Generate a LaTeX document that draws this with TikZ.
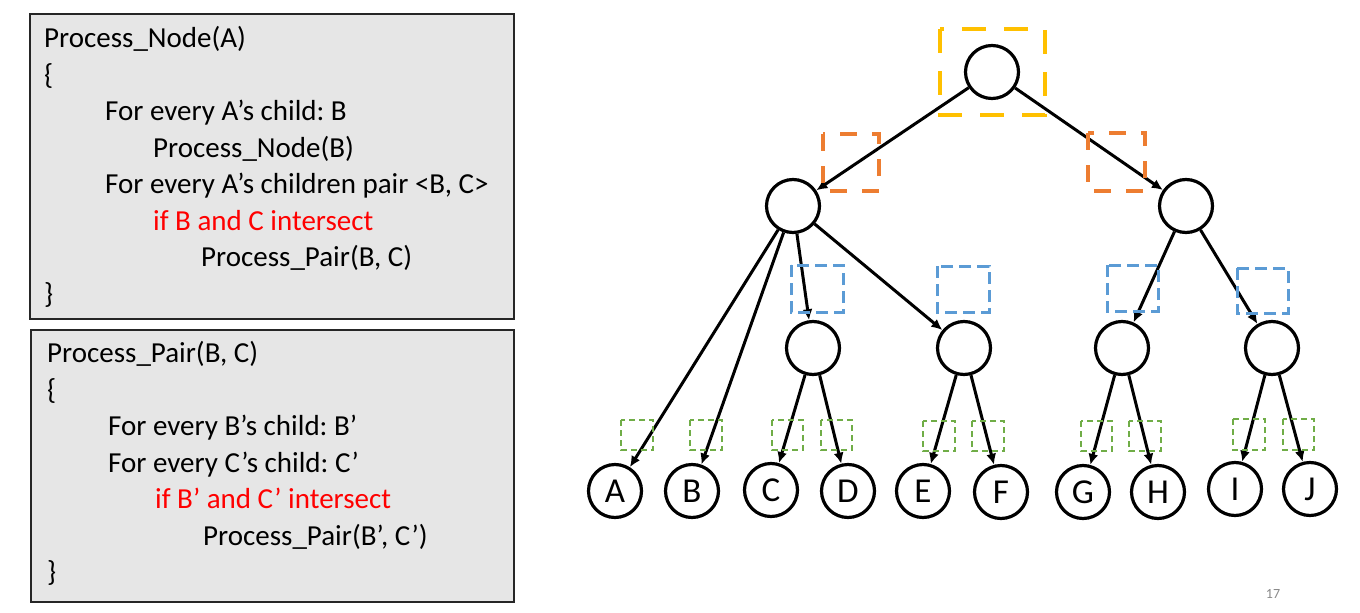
\documentclass[tikz,border=0pt]{standalone}
\usepackage{fontspec}
\setmainfont{Carlito}
\usetikzlibrary{arrows.meta}
\definecolor{codebg}{RGB}{230,230,230}
\definecolor{codered}{RGB}{255,0,0}
\definecolor{ylw}{RGB}{255,192,0}
\definecolor{org}{RGB}{237,125,49}
\definecolor{blu}{RGB}{91,155,213}
\definecolor{grn}{RGB}{112,173,71}
\definecolor{pgnum}{RGB}{137,137,137}
\frenchspacing
\begin{document}
\begin{tikzpicture}[x=1pt,y=-1pt,
  codebox/.style={draw=black!85, line width=1.2pt, fill=codebg},
  code/.style={anchor=base west, font=\fontsize{29}{29}\selectfont, inner sep=0pt},
  redcode/.style={code, text=codered},
  tnode/.style={circle, draw, line width=3.2pt, minimum size=53pt, inner sep=0pt, font=\fontsize{35}{35}\selectfont},
  arr/.style={-{Latex[length=11pt,width=10pt]}, line width=3pt},
  ybox/.style={draw=ylw, line width=4.5pt, dash pattern=on 24pt off 18pt},
  obox/.style={draw=org, line width=4.5pt, dash pattern=on 17pt off 15pt},
  bbox/.style={draw=blu, line width=3pt, dash pattern=on 12pt off 6pt},
  gbox/.style={draw=grn, line width=1.5pt, dash pattern=on 6pt off 4pt}
]
\useasboundingbox (0,0) rectangle (1360,613);

% code box 1
\draw[codebox] (30,14) rectangle (514,319);
\node[code] (n1) at (44,47.5) {Process\_Node(A)};
\node[code] (n2) at (44,84) {\{};
\node[code] (n3) at (105,120.5) {For every A’s child: B};
\node[code] (n4) at (153,157) {Process\_Node(B)};
\node[code] (n5) at (105,193.5) {For every A’s children pair <B, C>};
\node[redcode] (n6) at (153,230) {if B and C intersect};
\node[code] (n7) at (201,266.5) {Process\_Pair(B, C)};
\node[code] (n8) at (44,303) {\}};

% code box 2
\draw[codebox] (31,330) rectangle (514,602);
\node[code] (p1) at (47,362.5) {Process\_Pair(B, C)};
\node[code] (p2) at (47,399) {\{};
\node[code] (p3) at (108,435.5) {For every B’s child: B’};
\node[code] (p4) at (108,472) {For every C’s child: C’};
\node[redcode] (p5) at (155,508.5) {if B’ and C’ intersect};
\node[code] (p6) at (203,545) {Process\_Pair(B’, C’)};
\node[code] (p7) at (47,581.5) {\}};

% tree nodes
\node[tnode] (root) at (992,72) {};
\node[tnode] (l1) at (793,206) {};
\node[tnode] (r1) at (1186,206) {};
\node[tnode] (m1) at (813,348) {};
\node[tnode] (m2) at (964,348) {};
\node[tnode] (m3) at (1122,348) {};
\node[tnode] (m4) at (1272,348) {};
\node[tnode] (A) at (615,491) {A};
\node[tnode] (B) at (692,491) {B};
\node[tnode] (C) at (771,490) {C};
\node[tnode] (D) at (848,491) {D};
\node[tnode] (E) at (923,491) {E};
\node[tnode] (F) at (1001,492) {F};
\node[tnode] (G) at (1083,492) {G};
\node[tnode] (H) at (1158,492) {H};
\node[tnode] (I) at (1235,489) {I};
\node[tnode] (J) at (1310,489) {J};

% edges
\draw[arr] (root) -- (l1);
\draw[arr] (root) -- (r1);
\draw[arr] (l1) -- (A);
\draw[arr] (l1) -- (B);
\draw[arr] (l1) -- (m1);
\draw[arr] (l1) -- (m2);
\draw[arr] (r1) -- (m3);
\draw[arr] (r1) -- (m4);
\draw[arr] (m1) -- (C);
\draw[arr] (m1) -- (D);
\draw[arr] (m2) -- (E);
\draw[arr] (m2) -- (F);
\draw[arr] (m3) -- (G);
\draw[arr] (m3) -- (H);
\draw[arr] (m4) -- (I);
\draw[arr] (m4) -- (J);

% dashed boxes
\draw[ybox] (940,29) rectangle (1045,115);
\draw[obox] (823,134) rectangle (879,191);
\draw[obox] (1088,133) rectangle (1145,191);
\draw[bbox] (791,265) rectangle (843,312);
\draw[bbox] (937,266) rectangle (989,312);
\draw[bbox] (1107,265) rectangle (1158,311);
\draw[bbox] (1237,268) rectangle (1288,313);
\draw[gbox] (621,420) rectangle (653,450);
\draw[gbox] (690,420) rectangle (722,450);
\draw[gbox] (772,420) rectangle (803,450);
\draw[gbox] (821,420) rectangle (852,450);
\draw[gbox] (923,421) rectangle (955,451);
\draw[gbox] (972,421) rectangle (1004,451);
\draw[gbox] (1081,421) rectangle (1112,451);
\draw[gbox] (1129,421) rectangle (1161,451);
\draw[gbox] (1233,419) rectangle (1265,450);
\draw[gbox] (1283,419) rectangle (1314,450);

% page number
\node[text=pgnum, font=\fontsize{14}{14}\selectfont] (pg) at (1273,594) {17};
\end{tikzpicture}
\end{document}
